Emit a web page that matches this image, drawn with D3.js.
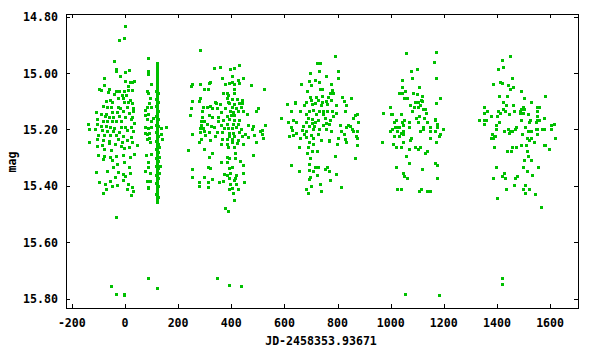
<!DOCTYPE html>
<html><head><meta charset="utf-8">
<script src="https://cdn.jsdelivr.net/npm/d3@7"></script>
<style>
html,body{margin:0;padding:0;background:#fff;}
svg{display:block;}
text{font-family:"DejaVu Sans Mono","Liberation Mono",monospace;font-weight:bold;font-size:11.6px;fill:#000;}
</style></head>
<body><svg id="chart" width="600" height="350"></svg>
<script>
// ---- data: [JD-2458353.93671, mag] ----
const season1 = [[-1,14.833],[-2,14.877],[-21,14.884],[-40,14.958],[-33,14.984],[-35,14.991],[16,14.989],[1,14.997],[-18,15.010],[-78,15.019],[0,15.027],[19,15.032],[33,15.029],[25,15.033],[11,15.046],[-78,15.044],[-99,15.058],[-89,15.061],[-61,15.057],[-63,15.068],[-34,15.065],[-21,15.065],[-5,15.063],[12,15.061],[26,15.060],[-41,15.074],[-12,15.078],[3,15.079],[-25,15.087],[-9,15.087],[17,15.096],[-73,15.099],[-56,15.097],[-5,15.102],[-48,15.104],[10,15.103],[26,15.108],[-82,15.116],[-66,15.119],[-53,15.119],[-26,15.119],[-18,15.123],[6,15.121],[29,15.123],[-110,15.139],[-89,15.147],[-73,15.147],[-49,15.138],[-29,15.138],[-6,15.135],[14,15.143],[31,15.134],[-77,15.153],[-59,15.155],[-44,15.155],[-23,15.153],[-1,15.155],[28,15.155],[-104,15.163],[-82,15.171],[-69,15.171],[-50,15.169],[-34,15.171],[-14,15.171],[21,15.163],[35,15.176],[-138,15.179],[-104,15.179],[-90,15.187],[-71,15.187],[-56,15.193],[-40,15.196],[-16,15.193],[0,15.193],[22,15.190],[-135,15.199],[-113,15.199],[-88,15.202],[-66,15.206],[-44,15.206],[-24,15.208],[9,15.202],[31,15.205],[-100,15.220],[-79,15.220],[-56,15.220],[-34,15.220],[-9,15.224],[21,15.226],[-134,15.246],[-104,15.235],[-82,15.238],[-60,15.241],[-25,15.235],[-13,15.244],[6,15.238],[26,15.244],[46,15.256],[-107,15.259],[-87,15.254],[-59,15.247],[-38,15.252],[-16,15.259],[15,15.261],[-79,15.271],[-53,15.273],[-4,15.267],[19,15.297],[35,15.287],[-100,15.289],[-79,15.293],[-56,15.297],[-35,15.293],[-6,15.291],[-84,15.306],[-50,15.308],[-2,15.315],[-29,15.323],[16,15.335],[-44,15.332],[-108,15.350],[-66,15.347],[-26,15.351],[-6,15.359],[20,15.356],[-39,15.368],[0,15.364],[-97,15.385],[-56,15.382],[-6,15.380],[-74,15.395],[-50,15.401],[-29,15.398],[12,15.394],[28,15.406],[-73,15.412],[6,15.412],[-82,15.427],[31,15.418],[24,15.434],
 [-33,15.509],[-54,15.755],[-33,15.783],[-4,15.788],[-2,15.785]];
const season2 = [[85,14.948],[88,14.991],[85,15.003],[97,15.039],[81,15.064],[88,15.072],[94,15.090],[90,15.105],[81,15.119],[76,15.131],[97,15.119],[74,15.150],[88,15.147],[81,15.163],[97,15.170],[104,15.161],[76,15.193],[88,15.195],[97,15.190],[75,15.214],[81,15.218],[91,15.212],[90,15.232],[84,15.235],[94,15.244],[79,15.289],[97,15.287],[88,15.315],[88,15.335],[76,15.348],[95,15.356],[84,15.382],[94,15.383],[88,15.404],[85,15.409],
 [137,15.196],[154,15.193],[134,15.216],[140,15.235],[129,15.261],[128,15.297],[132,15.330],[127,15.354],
 [85,15.726],[121,15.761]];
const season2Dense = [[121,14.963],[121,14.969],[121,14.976],[121,14.981],[121,14.988],[121,14.994],[121,15.001],[121,15.006],[121,15.013],[121,15.019],[121,15.024],[121,15.031],[121,15.037],[121,15.044],[121,15.049],[121,15.055],[121,15.062],[121,15.068],[121,15.073],[121,15.080],[121,15.086],[121,15.091],[121,15.098],[121,15.104],[121,15.111],[121,15.116],[121,15.122],[121,15.129],[121,15.135],[121,15.140],[121,15.147],[121,15.153],[121,15.158],[121,15.165],[121,15.171],[121,15.177],[121,15.183],[121,15.189],[121,15.195],[121,15.201],[121,15.207],[121,15.213],[121,15.219],[121,15.226],[121,15.231],[121,15.238],[121,15.244],[121,15.250],[121,15.256],[121,15.262],[121,15.268],[121,15.274],[121,15.281],[121,15.287],[121,15.293],[121,15.299],[121,15.305],[121,15.311],[121,15.318],[121,15.324],[121,15.330],[121,15.336],[121,15.342],[121,15.348],[121,15.355],[121,15.361],[121,15.367],[121,15.373],[121,15.380],[121,15.386],[121,15.392],[121,15.398],[121,15.405],[121,15.411],[121,15.418],[121,15.424],[121,15.431],[121,15.438],[121,15.446],[121,15.452],[121,15.457],
 [117,15.063],[118,15.091],[117,15.118],[118,15.152],[117,15.183],[118,15.209],[117,15.242],[118,15.268],[117,15.301],[118,15.329],[117,15.362],[118,15.391],[117,15.428],
 [124,15.072],[125,15.101],[124,15.133],[125,15.162],[124,15.188],[125,15.223],[124,15.251],[125,15.279],[124,15.312],[125,15.338],[124,15.371],[125,15.402],[124,15.441]];
const season3 = [[283,14.919],[336,14.983],[359,14.980],[396,14.987],[411,14.983],[430,14.973],[366,15.019],[404,15.012],[445,15.019],[317,15.036],[321,15.031],[377,15.039],[393,15.036],[403,15.033],[410,15.040],[426,15.025],[428,15.034],[475,15.042],[247,15.047],[253,15.040],[283,15.040],[298,15.058],[314,15.058],[410,15.057],[369,15.072],[383,15.072],[389,15.079],[411,15.072],[524,15.058],[385,15.090],[401,15.093],[388,15.102],[420,15.093],[439,15.096],[441,15.105],[253,15.100],[280,15.100],[283,15.090],[339,15.102],[341,15.105],[393,15.107],[410,15.110],[430,15.105],[357,15.110],[321,15.117],[295,15.122],[310,15.122],[326,15.125],[345,15.125],[376,15.123],[403,15.122],[418,15.125],[436,15.122],[502,15.125],[248,15.123],[291,15.136],[362,15.139],[395,15.135],[408,15.137],[426,15.135],[445,15.135],[493,15.136],[246,15.150],[288,15.155],[315,15.150],[327,15.157],[349,15.157],[383,15.152],[398,15.148],[410,15.150],[458,15.147],[351,15.169],[370,15.168],[390,15.164],[411,15.167],[430,15.167],[286,15.171],[298,15.169],[285,15.184],[307,15.182],[322,15.187],[361,15.184],[383,15.182],[405,15.182],[426,15.182],[464,15.183],[483,15.187],[528,15.186],[282,15.196],[295,15.196],[336,15.193],[374,15.194],[386,15.194],[401,15.194],[418,15.190],[436,15.200],[479,15.200],[515,15.202],[507,15.206],[283,15.208],[298,15.206],[317,15.208],[346,15.208],[366,15.210],[390,15.212],[408,15.214],[430,15.210],[453,15.218],[251,15.218],[300,15.220],[337,15.224],[393,15.224],[411,15.224],[439,15.222],[462,15.228],[484,15.221],[515,15.218],[285,15.233],[320,15.238],[367,15.235],[383,15.234],[401,15.234],[424,15.238],[520,15.232],[280,15.246],[361,15.252],[384,15.250],[401,15.246],[420,15.247],[445,15.253],[493,15.246],[389,15.261],[410,15.261],[298,15.271],[329,15.282],[414,15.285],[482,15.289],[385,15.297],[238,15.274],[390,15.303],[317,15.299],[414,15.300],[362,15.317],[383,15.317],[433,15.311],[445,15.328],[311,15.332],[321,15.336],[393,15.338],[404,15.332],[253,15.342],[374,15.358],[385,15.362],[395,15.356],[416,15.362],[445,15.353],[298,15.370],[329,15.377],[390,15.374],[414,15.374],[410,15.380],[253,15.370],[280,15.386],[311,15.388],[370,15.382],[355,15.385],[395,15.392],[449,15.385],[280,15.401],[314,15.406],[416,15.395],[390,15.413],[404,15.409],[424,15.411],[406,15.427],[411,15.452],[377,15.480],[389,15.491],
 [347,15.729],[392,15.751],[437,15.755]];
const season4 = [[791,14.941],[724,14.966],[734,14.966],[697,14.998],[731,14.991],[803,14.994],[757,15.009],[663,15.040],[694,15.027],[716,15.023],[803,15.019],[701,15.044],[729,15.033],[776,15.040],[686,15.062],[734,15.055],[740,15.058],[779,15.061],[784,15.072],[773,15.070],[697,15.084],[720,15.084],[742,15.083],[765,15.084],[818,15.084],[852,15.087],[683,15.101],[701,15.097],[716,15.106],[725,15.096],[742,15.103],[756,15.098],[776,15.096],[824,15.098],[611,15.111],[641,15.103],[641,15.108],[675,15.115],[704,15.111],[739,15.115],[762,15.111],[796,15.115],[833,15.115],[626,15.133],[660,15.135],[694,15.134],[709,15.132],[731,15.136],[746,15.135],[761,15.136],[781,15.134],[829,15.133],[682,15.146],[720,15.146],[746,15.146],[784,15.153],[796,15.143],[865,15.148],[873,15.146],[588,15.158],[615,15.172],[633,15.168],[643,15.174],[690,15.158],[702,15.162],[726,15.167],[752,15.158],[771,15.167],[859,15.159],[681,15.173],[702,15.178],[716,15.172],[756,15.177],[811,15.183],[838,15.184],[847,15.187],[878,15.172],[626,15.191],[671,15.187],[694,15.188],[711,15.188],[746,15.185],[769,15.179],[831,15.191],[853,15.197],[627,15.203],[667,15.203],[681,15.207],[709,15.200],[731,15.200],[756,15.200],[774,15.204],[814,15.207],[857,15.205],[874,15.204],[645,15.211],[673,15.218],[701,15.220],[727,15.217],[825,15.218],[869,15.223],[618,15.222],[633,15.220],[660,15.229],[683,15.228],[709,15.230],[737,15.238],[769,15.238],[803,15.232],[829,15.233],[872,15.230],[694,15.246],[709,15.250],[769,15.242],[799,15.250],[833,15.246],[874,15.257],[656,15.264],[689,15.262],[705,15.278],[724,15.278],[686,15.282],[791,15.293],[697,15.302],[867,15.300],[694,15.321],[626,15.325],[717,15.333],[727,15.333],[759,15.335],[752,15.340],[655,15.346],[694,15.345],[709,15.348],[769,15.346],[721,15.360],[795,15.357],[695,15.368],[694,15.377],[773,15.381],[734,15.392],[701,15.399],[814,15.403],[682,15.410],[739,15.420],[690,15.424]];
const season5 = [[1058,14.930],[1171,14.927],[1164,14.962],[1077,14.991],[1100,14.984],[1043,15.026],[1081,15.019],[1171,15.016],[1043,15.048],[1107,15.048],[1055,15.062],[1032,15.072],[1043,15.072],[1085,15.072],[1100,15.076],[1119,15.083],[1186,15.087],[1051,15.090],[1062,15.087],[1115,15.094],[1119,15.098],[1091,15.104],[1104,15.104],[1073,15.112],[1171,15.108],[998,15.119],[1089,15.122],[1104,15.122],[1112,15.115],[1122,15.129],[1131,15.126],[1081,15.136],[972,15.140],[1002,15.147],[1006,15.147],[1040,15.147],[1134,15.143],[1107,15.151],[1051,15.165],[1021,15.165],[1013,15.172],[1043,15.175],[1070,15.175],[1096,15.161],[1104,15.172],[1126,15.158],[1135,15.175],[1168,15.162],[1168,15.168],[1175,15.179],[1032,15.190],[1017,15.193],[1025,15.193],[1047,15.186],[1070,15.190],[1122,15.193],[1149,15.193],[1175,15.193],[998,15.204],[1006,15.200],[1025,15.204],[1040,15.211],[1047,15.204],[1111,15.204],[1122,15.200],[1149,15.207],[1168,15.204],[1198,15.200],[1186,15.215],[1183,15.222],[1013,15.225],[1032,15.225],[1047,15.218],[1077,15.229],[1073,15.236],[1149,15.232],[968,15.246],[1010,15.250],[1047,15.246],[1171,15.246],[1021,15.264],[1040,15.261],[1070,15.268],[1092,15.261],[1104,15.268],[1111,15.261],[1130,15.282],[1137,15.278],[1058,15.293],[1070,15.318],[1168,15.318],[1175,15.325],[1021,15.332],[1119,15.342],[1047,15.353],[1051,15.364],[1062,15.371],[1175,15.371],[1025,15.410],[1040,15.410],[1107,15.417],[1115,15.413],[1137,15.420],[1149,15.417],
 [1054,15.783],[1183,15.787]];
const season6 = [[1450,14.941],[1420,14.955],[1423,14.977],[1405,14.987],[1457,15.016],[1412,15.030],[1420,15.037],[1386,15.040],[1442,15.044],[1461,15.048],[1450,15.058],[1491,15.062],[1581,15.080],[1408,15.083],[1438,15.083],[1502,15.090],[1423,15.101],[1529,15.104],[1435,15.112],[1352,15.119],[1461,15.115],[1499,15.122],[1557,15.119],[1549,15.122],[1363,15.133],[1352,15.140],[1405,15.133],[1412,15.140],[1423,15.129],[1431,15.136],[1465,15.133],[1487,15.133],[1492,15.127],[1502,15.126],[1551,15.133],[1446,15.147],[1486,15.143],[1499,15.143],[1517,15.147],[1378,15.154],[1401,15.154],[1491,15.165],[1524,15.168],[1549,15.165],[1559,15.165],[1578,15.158],[1551,15.151],[1333,15.165],[1352,15.168],[1359,15.168],[1352,15.179],[1397,15.183],[1408,15.172],[1521,15.175],[1506,15.190],[1547,15.172],[1615,15.179],[1604,15.186],[1471,15.193],[1467,15.197],[1442,15.200],[1450,15.207],[1455,15.207],[1396,15.200],[1446,15.211],[1427,15.207],[1517,15.204],[1529,15.204],[1551,15.200],[1547,15.200],[1570,15.200],[1578,15.197],[1604,15.200],[1382,15.215],[1389,15.222],[1386,15.229],[1378,15.232],[1393,15.225],[1495,15.218],[1551,15.218],[1514,15.229],[1521,15.236],[1529,15.229],[1619,15.232],[1540,15.246],[1389,15.261],[1457,15.264],[1472,15.261],[1453,15.275],[1438,15.275],[1491,15.257],[1510,15.257],[1514,15.275],[1578,15.257],[1581,15.257],[1596,15.268],[1517,15.296],[1529,15.307],[1502,15.310],[1397,15.335],[1499,15.335],[1555,15.335],[1427,15.353],[1420,15.364],[1431,15.371],[1468,15.371],[1476,15.367],[1386,15.374],[1532,15.360],[1514,15.346],[1465,15.396],[1506,15.396],[1499,15.410],[1521,15.413],[1435,15.413],[1506,15.424],[1544,15.428],[1401,15.442],[1566,15.477],
 [1419,15.729],[1419,15.747]];
const xTicks = [-200,0,200,400,600,800,1000,1200,1400,1600];
const yTicks = [14.8,15.0,15.2,15.4,15.6,15.8];
const xTitle = "JD-2458353.93671";
const yTitle = "mag";

// ---- layout ----
const svg = d3.select("#chart");
const L = 66, R = 578, T = 14, B = 308;
const x = d3.scaleLinear().domain([-222, 1705]).range([L, R]);
const y = d3.scaleLinear().domain([14.7904, 15.8337]).range([T, B]);
const green = "#00c000";

const all = [].concat(season1, season2, season2Dense, season3, season4, season5, season6);
svg.append("g").selectAll("rect").data(all).join("rect")
  .attr("x", d => Math.round(x(d[0])) - 1)
  .attr("y", d => Math.round(y(d[1])) - 1)
  .attr("width", 3).attr("height", 3)
  .attr("fill", green);

const tl = 4;
const axes = svg.append("g").attr("stroke", "#000").attr("stroke-width", 1).attr("shape-rendering", "crispEdges");
xTicks.forEach(t => {
  const px = Math.round(x(t)) + 0.5;
  axes.append("line").attr("x1", px).attr("x2", px).attr("y1", B).attr("y2", B - tl);
  axes.append("line").attr("x1", px).attr("x2", px).attr("y1", T).attr("y2", T + tl);
});
yTicks.forEach(t => {
  const py = Math.round(y(t)) + 0.5;
  axes.append("line").attr("x1", L).attr("x2", L + tl).attr("y1", py).attr("y2", py);
  axes.append("line").attr("x1", R).attr("x2", R - tl).attr("y1", py).attr("y2", py);
});
axes.append("rect").attr("x", L + 0.5).attr("y", T + 0.5).attr("width", R - L).attr("height", B - T).attr("fill", "none");

const fmtY = d3.format(".2f");
svg.append("g").selectAll("text").data(yTicks).join("text")
  .attr("x", 58).attr("y", d => y(d) + 4.5).attr("text-anchor", "end").text(d => fmtY(d));
svg.append("g").selectAll("text").data(xTicks).join("text")
  .attr("x", d => x(d)).attr("y", 326.5).attr("text-anchor", "middle").text(d => d);
svg.append("text").attr("x", (L + R) / 2 - 1).attr("y", 345).attr("text-anchor", "middle").text(xTitle);
svg.append("text").attr("transform", "translate(16," + ((T + B) / 2 + 1) + ") rotate(-90)").attr("text-anchor", "middle").text(yTitle);
</script></body></html>
